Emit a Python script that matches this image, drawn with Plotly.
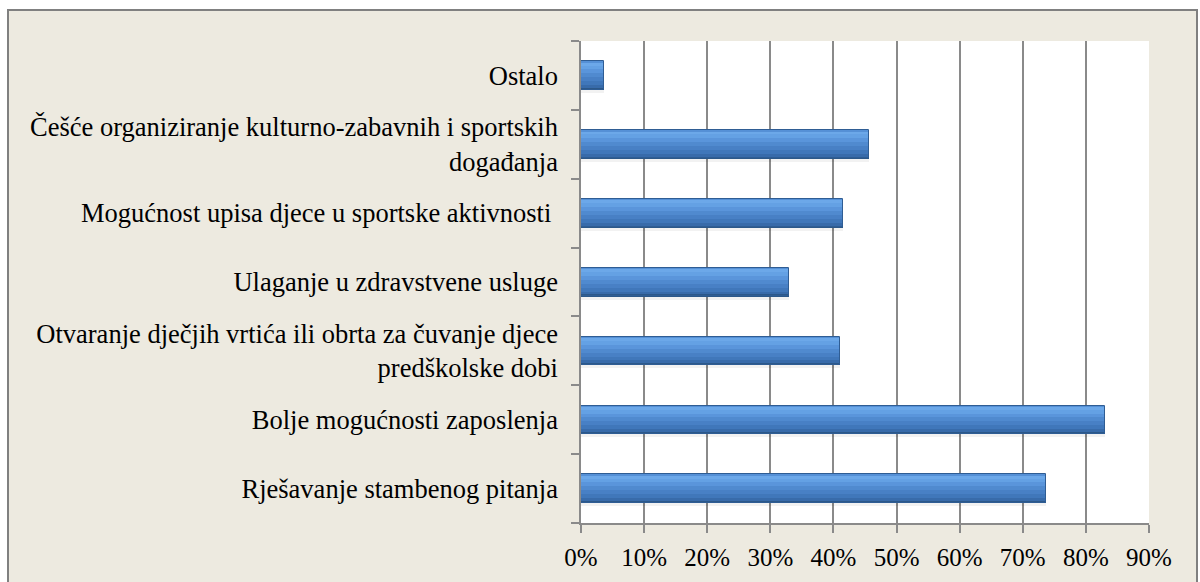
import plotly.graph_objects as go

# ---- data (bottom to top) ----
categories = [
    "Rješavanje stambenog pitanja",
    "Bolje mogućnosti zaposlenja",
    "Otvaranje dječjih vrtića ili obrta za čuvanje djece<br>predškolske dobi",
    "Ulaganje u zdravstvene usluge",
    "Mogućnost upisa djece u sportske aktivnosti ",
    "Češće organiziranje kulturno-zabavnih i sportskih<br>događanja",
    "Ostalo",
]
values = [0.736, 0.831, 0.411, 0.329, 0.415, 0.457, 0.036]
tick_vals = [0, 0.1, 0.2, 0.3, 0.4, 0.5, 0.6, 0.7, 0.8, 0.9]
tick_text = ["0%", "10%", "20%", "30%", "40%", "50%", "60%", "70%", "80%", "90%"]

# ---- style ----
W = 0.41
stripes = [
    (0.00, 0.05, "#5590D6"),
    (0.05, 0.15, "#6CA8E9"),
    (0.15, 0.28, "#64A1E4"),
    (0.28, 0.42, "#5A95DB"),
    (0.42, 0.56, "#508ACF"),
    (0.56, 0.70, "#4880C5"),
    (0.70, 0.84, "#4077BA"),
    (0.84, 0.94, "#386BAA"),
    (0.94, 1.00, "#2C5889"),
]
FONT = "Liberation Serif, Times New Roman, serif"

fig = go.Figure()

fig.add_trace(go.Bar(
    y=categories, x=values, orientation="h",
    width=0.05, offset=-W / 2 - 0.05,
    marker=dict(color="rgba(0,0,0,0.05)", line=dict(width=0)),
    hoverinfo="skip", showlegend=False,
))

for a, b, col in stripes:
    fig.add_trace(go.Bar(
        y=categories, x=values, orientation="h",
        width=(b - a) * W, offset=W / 2 - b * W,
        marker=dict(color=col, line=dict(width=0)),
        hoverinfo="skip", showlegend=False,
    ))

fig.add_trace(go.Bar(
    y=categories, x=values, orientation="h",
    width=W, offset=-W / 2,
    marker=dict(color="rgba(0,0,0,0)", line=dict(color="#2F5D94", width=1)),
    showlegend=False,
))

L, R, T, B = 581, 51, 41, 59
PW, PH = 1200 - L - R, 582 - T - B

def px_x(px):
    return (px - L) / PW

def px_y(py):
    return (582 - B - py) / PH

fig.update_layout(
    width=1200, height=582, autosize=False,
    margin=dict(l=L, r=R, t=T, b=B, pad=0),
    paper_bgcolor="white", plot_bgcolor="white",
    barmode="overlay", bargap=0,
    font=dict(family=FONT, size=24, color="black"),
    shapes=[
        dict(type="rect", xref="paper", yref="paper",
             x0=px_x(8), x1=px_x(1197), y0=px_y(600), y1=px_y(10),
             fillcolor="#EDEAE0", line=dict(color="#808080", width=2), layer="below"),
        dict(type="rect", xref="paper", yref="paper",
             x0=0, x1=1, y0=0, y1=1,
             fillcolor="white", line=dict(width=0), layer="below"),
    ],
    xaxis=dict(
        range=[0, 0.9], tickvals=tick_vals, ticktext=tick_text,
        showgrid=True, gridcolor="#8A8A8A", gridwidth=1.5,
        showline=True, linecolor="#8A8A8A", linewidth=1.5,
        ticks="outside", ticklen=8, tickcolor="#8A8A8A", tickwidth=1.5,
        tickfont=dict(family=FONT, size=25, color="black"),
        ticklabelstandoff=3,
        zeroline=False, fixedrange=True,
    ),
    yaxis=dict(
        type="category", categoryorder="array", categoryarray=categories,
        range=[-0.5, len(categories) - 0.5],
        showgrid=False, showline=True, linecolor="#8A8A8A", linewidth=1.5,
        ticks="outside", ticklen=8, tickcolor="#8A8A8A", tickwidth=1.5,
        tickson="boundaries",
        tickfont=dict(family=FONT, size=26.5, color="black"),
        ticklabelstandoff=16,
        fixedrange=True,
    ),
)

fig.write_html(
    "out.html",
    config={"displayModeBar": False},
    post_script="document.body.style.margin='0';document.body.style.overflow='hidden';",
)
